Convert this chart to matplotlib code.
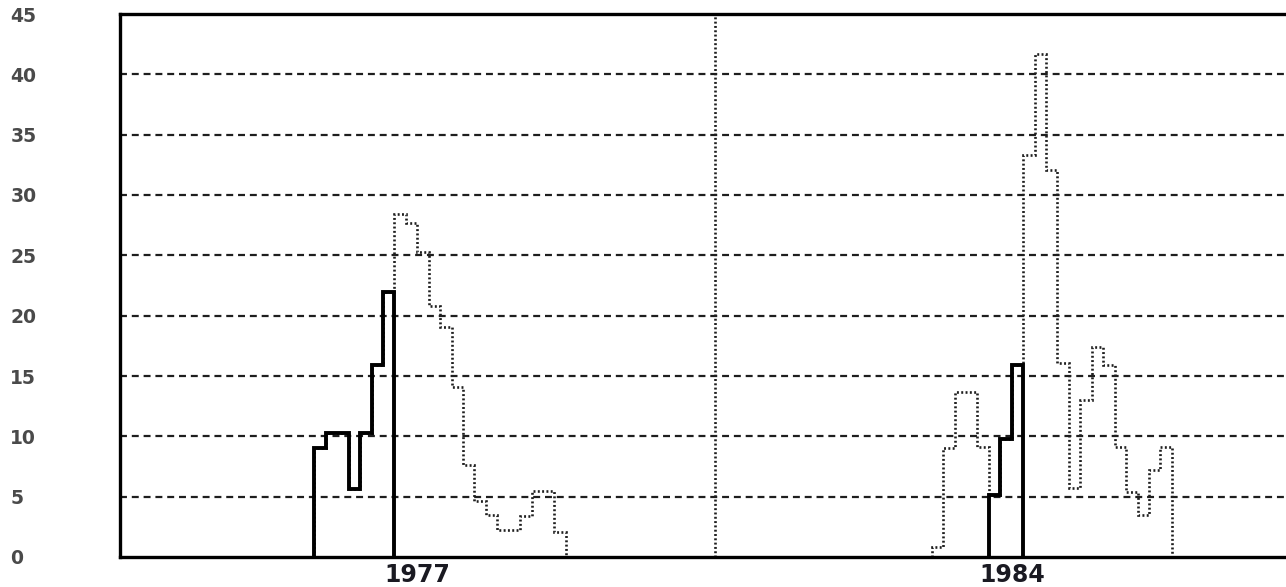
import numpy as np
import matplotlib.pyplot as plt

plt.rcParams['lines.scale_dashes'] = False

# periods along the x axis (step index), 104 steps across the axis
n_periods = 104
year_ticks = [26, 78]
year_labels = ['1977', '1984']
mid_line = 52

# first episode
solid_a_start = 17
solid_a = [9.0, 10.3, 10.3, 5.6, 10.3, 15.9, 22.0]
dotted_a_start = 17
dotted_a = [9.0, 10.3, 10.3, 5.6, 10.3, 15.9, 22.0,
            28.4, 27.7, 25.3, 20.8, 19.1, 14.1, 7.6, 4.6, 3.5,
            2.2, 2.2, 3.4, 5.5, 5.5, 2.1]

# second episode
solid_b_start = 76
solid_b = [5.1, 9.8, 15.9]
dotted_b_start = 71
dotted_b = [0.8, 9.0, 13.7, 13.7, 9.15,
            5.1, 9.8, 15.9,
            33.3, 41.7, 32.1, 16.1, 5.7, 13.0, 17.4, 15.9, 9.15,
            5.4, 3.5, 7.2, 9.15]

y_ticks = [0, 5, 10, 15, 20, 25, 30, 35, 40, 45]

fig = plt.figure(figsize=(12.86, 5.87), dpi=100)
ax = fig.add_axes([120 / 1286, 30 / 587, 1189 / 1286, 543 / 587])

# grid
for y in y_ticks[1:-1]:
    ax.axhline(y, color='#1e1e1e', lw=1.6, ls=(0, (5, 3.5)), zorder=1)
ax.axvline(mid_line, color='#1e1e1e', lw=1.9, ls=(0, (1.4, 1.7)), zorder=1)

# dotted series
for start, vals in [(dotted_a_start, dotted_a), (dotted_b_start, dotted_b)]:
    edges = np.arange(start, start + len(vals) + 1)
    ax.stairs(vals, edges, baseline=0, color='#1e1e1e', lw=1.9,
              ls=(0, (1.4, 1.7)), zorder=2)

# solid series
for start, vals in [(solid_a_start, solid_a), (solid_b_start, solid_b)]:
    edges = np.arange(start, start + len(vals) + 1)
    ax.stairs(vals, edges, baseline=0, color='black', lw=2.8, zorder=3)

ax.set_xlim(0, n_periods)
ax.set_ylim(0, 45)

ax.set_xticks(year_ticks)
ax.set_xticklabels(year_labels, fontsize=17, fontweight='bold', color='#1a1a22')
ax.set_yticks(y_ticks)
ax.set_yticklabels([str(v) for v in y_ticks], fontsize=13.5, fontweight='bold',
                   color='#4a4a4a', ha='left')
ax.tick_params(axis='y', length=0, pad=79)
ax.tick_params(axis='x', length=0, pad=4)

for s in ax.spines.values():
    s.set_linewidth(2.4)
    s.set_color('black')
    s.set_zorder(5)

fig.savefig('out.png', dpi=100)
